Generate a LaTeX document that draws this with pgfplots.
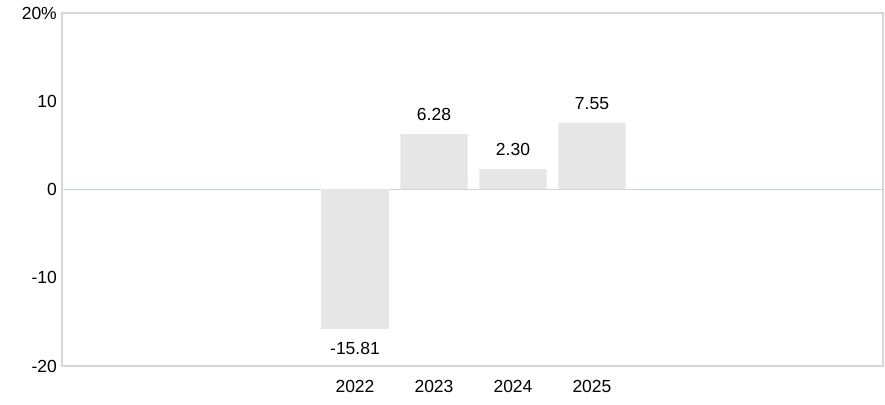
\documentclass[border=0pt]{standalone}
\usepackage{fontspec}
\setmainfont{Liberation Sans}
\usepackage{pgfplots}
\pgfplotsset{compat=1.18}
\definecolor{barc}{HTML}{E6E6E6}
\definecolor{framec}{HTML}{D6D6D6}
\definecolor{zline}{HTML}{C8D6D6}
\begin{document}
\begin{tikzpicture}
\begin{axis}[name=ax, scale only axis, width=821pt, height=353pt,
 xmin=-3.709, xmax=6.684, ymin=-20, ymax=20,
 axis line style={draw=framec, line width=1.5pt},
 major tick length=0pt,
 xtick={0,1,2,3}, xticklabels={2022,2023,2024,2025},
 ytick={-20,-10,0,10,20}, yticklabels={-20,-10,0,10,20\%},
 tick label style={font=\fontsize{17.5}{20}\selectfont, text=black},
 yticklabel style={inner sep=0pt, xshift=-5pt},
 xticklabel style={inner sep=0pt, yshift=-14pt},
 extra y ticks={0}, extra y tick labels={},
 extra y tick style={grid=major, major grid style={draw=zline, line width=1pt}},
 ybar, bar width=0.85, bar shift=0pt,
 nodes near coords, point meta=explicit symbolic,
 every node near coord/.append style={font=\fontsize{17.5}{20}\selectfont, inner sep=0pt, outer sep=13.5pt, text=black},
]
\addplot[fill=barc, draw=none, every node near coord/.append style={anchor=north}] coordinates {(0,-15.81) [-15.81]};
\addplot[fill=barc, draw=none, every node near coord/.append style={anchor=south}] coordinates {(1,6.28) [6.28] (2,2.30) [2.30] (3,7.55) [7.55]};
\end{axis}
\pgfresetboundingbox
\path ([shift={(-62pt,-38pt)}]ax.south west) rectangle ([shift={(2pt,13pt)}]ax.north east);
\end{tikzpicture}
\end{document}
